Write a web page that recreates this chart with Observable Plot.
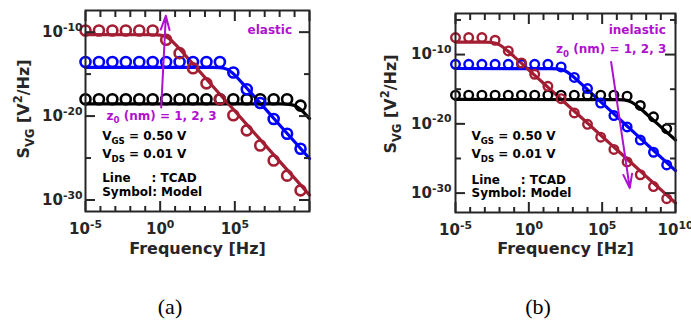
<!DOCTYPE html>
<html><head><meta charset="utf-8">
<script src="https://cdn.jsdelivr.net/npm/d3@7"></script>
<script src="https://cdn.jsdelivr.net/npm/@observablehq/plot@0.6"></script>
<style>
html,body{margin:0;padding:0;background:#fff;}
#fig{position:relative;width:691px;height:323px;overflow:hidden;background:#fff;}
.panel{position:absolute;top:0;}
.cap{position:absolute;font-family:"Liberation Serif","Times New Roman",serif;font-size:22px;color:#000;transform:translate(-50%,-50%);white-space:nowrap;}
</style></head><body>
<div id="fig">
 <div class="panel" id="pa" style="left:0;width:345px"></div>
 <div class="panel" id="pb" style="left:345px;width:346px"></div>
 <div class="cap" style="left:170px;top:307px">(a)</div>
 <div class="cap" style="left:538px;top:307px">(b)</div>
</div>
<script>
// ---------- data (log10 values) ----------
const series = [1, 2, 3];                     // z0 (nm)
const seriesColors = ["#000000", "#0000FF", "#A31D33"];
const circleExp = [-5, -4.1, -3.2, -2.3, -1.4, -0.5, 0.4, 1.3, 2.2, 3.1, 4.0, 4.9, 5.8, 6.7, 7.6, 8.5, 9.4];

// (a) elastic — model (symbols)
const aModel1 = [-18.0,-18.0,-18.0,-18.0,-18.0,-18.0,-18.0,-18.0,-18.0,-18.0,-18.0,-18.0,-18.0,-18.0,-18.0,-18.0,-18.75];
const aModel2 = [-13.56,-13.56,-13.56,-13.56,-13.56,-13.56,-13.56,-13.56,-13.56,-13.56,-13.56,-14.8,-16.8,-18.45,-20.35,-22.1,-23.9];
const aModel3 = [-9.8,-9.8,-9.8,-9.8,-9.8,-9.8,-10.9,-12.5,-14.3,-16.1,-18.0,-19.9,-21.7,-23.5,-25.3,-27.1,-28.85];
// (a) elastic — TCAD (lines)
const aLine1Exp = [-5, 8, 8.5, 9, 9.5, 10];
const aLine1 = [-18.55, -18.55, -18.57, -18.74, -19.36, -20.3];
const aLine2Exp = [-5, 3.5, 4, 4.5, 5, 5.5, 6, 7, 8, 9, 10];
const aLine2 = [-14.2, -14.2, -14.23, -14.44, -15.12, -16.07, -17.07, -19.06, -21.06, -23.06, -25.06];
const aLine3Exp = [-5, -0.5, 0, 0.5, 1, 1.5, 2, 3, 4, 5, 6, 7, 8, 9, 10];
const aLine3 = [-10.3, -10.31, -10.35, -10.65, -11.43, -12.4, -13.4, -15.4, -17.4, -19.4, -21.4, -23.4, -25.4, -27.4, -29.4];

// (b) inelastic — model (symbols)
const bModel1 = [-15.86,-15.86,-15.86,-15.86,-15.86,-15.86,-15.86,-15.86,-15.86,-15.86,-15.86,-15.86,-15.86,-16.0,-17.35,-18.98,-20.7];
const bModel2 = [-11.4,-11.4,-11.4,-11.4,-11.4,-11.4,-11.4,-11.4,-11.78,-13.3,-14.9,-17.0,-18.8,-20.45,-22.35,-24.1,-25.93];
const bModel3 = [-7.54,-7.54,-7.54,-7.93,-9.47,-11.2,-12.84,-14.58,-16.36,-18.43,-20.07,-21.92,-23.7,-25.5,-27.35,-29.05,-30.8];
// (b) inelastic — TCAD (lines)
const bLine1Exp = [-5, 6, 6.5, 7, 7.5, 8, 9, 10];
const bLine1 = [-16.48, -16.49, -16.54, -16.86, -17.62, -18.54, -20.43, -22.33];
const bLine2Exp = [-5, 1.5, 2, 2.5, 3, 3.5, 4, 5, 6, 7, 8, 9, 10];
const bLine2 = [-12.01, -12.02, -12.07, -12.37, -13.14, -14.08, -15.05, -17.0, -18.95, -20.9, -22.85, -24.8, -26.75];
const bLine3Exp = [-5, -3, -2.5, -2, -1.5, -1, 0, 1, 2, 3, 4, 5, 6, 7, 8, 9, 10];
const bLine3 = [-8.19, -8.2, -8.26, -8.6, -9.37, -10.3, -12.22, -14.14, -16.06, -17.98, -19.9, -21.82, -23.74, -25.66, -27.58, -29.5, -31.42];

// ticks
const xMajorExp = [-5, 0, 5, 10];
const xMinorExp = [-4, -3, -2, -1, 1, 2, 3, 4, 6, 7, 8, 9];
const yMajorExp = [-10, -20, -30];
const yMinorExpA = [-15, -25];
const yMinorExpB = [-5, -15, -25];
const xTickLabelsA = ["10^{-5}", "10^{0}", "10^{5}"];
const xTickLabelsB = ["10^{-5}", "10^{0}", "10^{5}", "10^{10}"];
const yTickLabels = ["10^{-10}", "10^{-20}", "10^{-30}"];
const xTitle = "Frequency [Hz]";
const yTitle = "S_{VG} [V^{2}/Hz]";

// annotations (positions in data space: log10 f, log10 S)
const notesA = [
  {e: -3.88, v: -22.38, t: "V_{GS} = 0.50 V"},
  {e: -3.88, v: -24.56, t: "V_{DS} = 0.01 V"},
  {e: -3.88, v: -27.34, t: "Line\u00A0\u00A0\u00A0\u00A0\u00A0: TCAD"},
  {e: -3.88, v: -29.1, t: "Symbol: Model"}
];
const purpleA = [
  {e: 7.34, v: -9.71, t: "elastic", a: "middle"},
  {e: -3.59, v: -19.95, t: "z_{0} (nm) = 1, 2, 3", a: "start"}
];
const arrowA = [{e1: 0.07, v1: -18.99, e2: 0.38, v2: -8.05}];
const notesB = [
  {e: -3.91, v: -21.76, t: "V_{GS} = 0.50 V"},
  {e: -3.91, v: -24.39, t: "V_{DS} = 0.01 V"},
  {e: -3.91, v: -28.09, t: "Line\u00A0\u00A0\u00A0\u00A0\u00A0: TCAD"},
  {e: -3.91, v: -30.0, t: "Symbol: Model"}
];
const purpleB = [
  {e: 7.39, v: -6.5, t: "inelastic", a: "middle"},
  {e: 1.86, v: -9.28, t: "z_{0} (nm) = 1, 2, 3", a: "start"}
];
const arrowB = [{e1: 5.61, v1: -11.06, e2: 6.88, v2: -29.28}];

// ---------- helpers ----------
const purple = "#B010D0";
const axisColor = "#262626";
const P = e => 10 ** e;

function rows(expList, valsList) {
  const out = [];
  series.forEach((z, k) => expList[k].forEach((e, i) => out.push({f: P(e), s: P(valsList[k][i]), z})));
  return out;
}

function richify(svg) {
  svg.querySelectorAll("text").forEach(t => {
    const s = t.textContent;
    if (!/[\^_]\{/.test(s)) return;
    const fs = parseFloat(getComputedStyle(t).fontSize) || 12;
    const parts = [];
    const re = /([\^_])\{([^}]*)\}/g;
    let last = 0, m;
    while ((m = re.exec(s))) {
      if (m.index > last) parts.push({t: s.slice(last, m.index), k: ""});
      parts.push({t: m[2], k: m[1]});
      last = re.lastIndex;
    }
    if (last < s.length) parts.push({t: s.slice(last), k: ""});
    t.textContent = "";
    let shift = 0;
    for (const p of parts) {
      const ts = document.createElementNS("http://www.w3.org/2000/svg", "tspan");
      const target = p.k === "^" ? -0.42 * fs : p.k === "_" ? 0.33 * fs : 0;
      const dy = target - shift;
      if (dy) ts.setAttribute("dy", dy.toFixed(2));
      shift = target;
      if (p.k) ts.setAttribute("font-size", (0.72 * fs).toFixed(2));
      ts.textContent = p.t;
      t.appendChild(ts);
    }
  });
}

function panel(o) {
  const lineData = rows(o.lineExp, o.lines);
  const dotData = rows([circleExp, circleExp, circleExp], o.models);
  const tk = {stroke: axisColor, strokeWidth: 2, fill: "none", label: null};
  const xLabelVals = o.xLabels.map((_, i) => P(xMajorExp[i]));
  const yLabelVals = yTickLabels.map((_, i) => P(yMajorExp[i]));
  return Plot.plot({
    width: o.width, height: o.height,
    marginLeft: o.ml, marginRight: o.mr, marginTop: o.mt, marginBottom: o.mb,
    x: {type: "log", domain: [1e-5, 1e10]},
    y: {type: "log", domain: [P(o.yDom[0]), P(o.yDom[1])]},
    color: {domain: series, range: seriesColors},
    style: {fontFamily: "'DejaVu Sans', Verdana, sans-serif", fontWeight: "bold", fontSize: "15px", background: "transparent", overflow: "visible", color: axisColor},
    marks: [
      Plot.line(lineData, {x: "f", y: "s", z: "z", stroke: "z", strokeWidth: 3.2, curve: "monotone-x"}),
      Plot.dot(dotData, {x: "f", y: "s", stroke: "z", r: o.r, strokeWidth: o.sw, fill: "none"}),
      // inward ticks on all four sides
      Plot.axisX(xMajorExp.map(P), {anchor: "bottom", tickSize: -10, ...tk}),
      Plot.axisX(xMajorExp.map(P), {anchor: "top", tickSize: -10, ...tk}),
      Plot.axisX(xMinorExp.map(P), {anchor: "bottom", tickSize: -5, ...tk}),
      Plot.axisX(xMinorExp.map(P), {anchor: "top", tickSize: -6, ...tk}),
      Plot.axisY(yMajorExp.map(P), {anchor: "left", tickSize: -10, ...tk}),
      Plot.axisY(yMajorExp.map(P), {anchor: "right", tickSize: -11, ...tk}),
      Plot.axisY(o.yMinor.map(P), {anchor: "left", tickSize: -6, ...tk}),
      Plot.axisY(o.yMinor.map(P), {anchor: "right", tickSize: -6, ...tk}),
      Plot.frame({stroke: axisColor, strokeWidth: 2}),
      Plot.axisX(xLabelVals, {anchor: "bottom", tickSize: 0, tickPadding: 12, label: null, fill: axisColor,
        tickFormat: d => o.xLabels[xLabelVals.indexOf(d)]}),
      Plot.axisY(yLabelVals, {anchor: "left", tickSize: 0, tickPadding: o.yPad, label: null, fill: axisColor,
        tickFormat: d => yTickLabels[yLabelVals.indexOf(d)]}),
      Plot.text([xTitle], {text: d => d, frameAnchor: "bottom", textAnchor: "middle", dy: o.xtDy, lineAnchor: "top", fontSize: 16, fill: axisColor}),
      Plot.text([yTitle], {text: d => d, frameAnchor: "left", textAnchor: "middle", lineAnchor: "middle", rotate: -90, dx: o.ytDx, dy: o.ytDy, fontSize: 16, fill: axisColor}),
      Plot.text(o.notes, {x: d => P(d.e), y: d => P(d.v), text: "t", textAnchor: "start", fontSize: 12, fill: "#000"}),
      Plot.text(o.purple.filter(d => d.a === "start"), {x: d => P(d.e), y: d => P(d.v), text: "t", textAnchor: "start", fontSize: 12, fill: purple}),
      Plot.text(o.purple.filter(d => d.a === "middle"), {x: d => P(d.e), y: d => P(d.v), text: "t", textAnchor: "middle", fontSize: 12, fill: purple}),
      Plot.arrow(o.arrow, {x1: d => P(d.e1), y1: d => P(d.v1), x2: d => P(d.e2), y2: d => P(d.v2), stroke: purple, strokeWidth: 2, headLength: 11, headAngle: 35})
    ]
  });
}

const svgA = panel({
  width: 345, height: 270, ml: 85, mr: 36, mt: 10, mb: 59,
  yDom: [-31.37, -7.42], yMinor: yMinorExpA, r: 5, sw: 2.6, yPad: 3,
  xLabels: xTickLabelsA, xtDy: 31, ytDx: -62, ytDy: -2,
  lineExp: [aLine1Exp, aLine2Exp, aLine3Exp], lines: [aLine1, aLine2, aLine3],
  models: [aModel1, aModel2, aModel3], notes: notesA, purple: purpleA, arrow: arrowA
});
const svgB = panel({
  width: 346, height: 270, ml: 110, mr: 16, mt: 13, mb: 58,
  yDom: [-32.8, -4.07], yMinor: yMinorExpB, r: 4.3, sw: 2.4, yPad: 4,
  xLabels: xTickLabelsB, xtDy: 30, ytDx: -65, ytDy: -9,
  lineExp: [bLine1Exp, bLine2Exp, bLine3Exp], lines: [bLine1, bLine2, bLine3],
  models: [bModel1, bModel2, bModel3], notes: notesB, purple: purpleB, arrow: arrowB
});
document.getElementById("pa").appendChild(svgA);
document.getElementById("pb").appendChild(svgB);
richify(svgA);
richify(svgB);
</script>
</body></html>
